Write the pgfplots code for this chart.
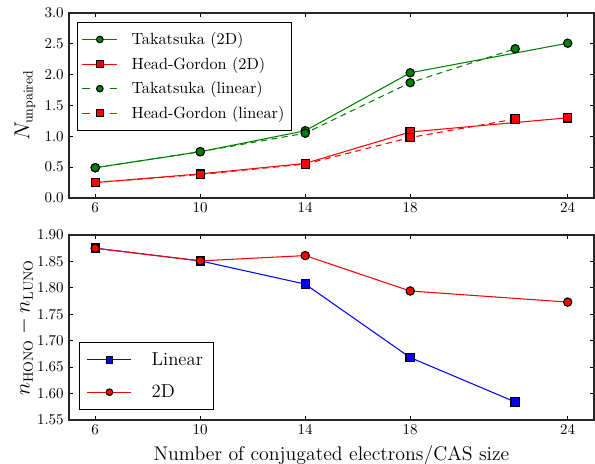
\documentclass[border=0pt]{standalone}
\usepackage{pgfplots}
\pgfplotsset{compat=1.18}
\definecolor{mgreen}{rgb}{0,0.5,0}
\definecolor{mred}{rgb}{1,0,0}
\definecolor{mblue}{rgb}{0,0,1}
\pgfplotsset{
  mystyle/.style={
    width=350pt, height=123.3pt, scale only axis,
    xmin=5, xmax=25,
    xtick={6,10,14,18,24},
    tick align=inside,
    major tick length=2.8pt,
    axis line style={line width=0.8pt, black!85},
    every tick/.style={black, line width=0.6pt},
    tick label style={font=\fontsize{10}{12}\selectfont},
    ylabel style={at={(axis description cs:-0.084,0.5)}, anchor=center},
    legend cell align=left,
    legend style={draw=black, line width=0.6pt, fill=white, inner xsep=3pt, inner ysep=4.5pt},
  },
  lin/.style={line width=0.7pt},
  dsh/.style={line width=0.7pt, dash pattern=on 4pt off 3pt},
}
\begin{document}
\begin{tikzpicture}
\begin{axis}[mystyle, name=top,
  ymin=0, ymax=3, ytick={0,0.5,1,1.5,2,2.5,3},
  yticklabel style={/pgf/number format/.cd, fixed, fixed zerofill, precision=1},
  ylabel={\fontsize{13.5}{16}\selectfont $N_{\mathrm{unpaired}}$},
  legend style={at={(0.015,0.951)}, anchor=north west, font=\fontsize{10.8}{13}\selectfont, row sep=2.8pt},
  legend image code/.code={\draw[mark size=2.2pt, mark repeat=2,mark phase=2] plot coordinates {(0pt,0pt)(11.65pt,0pt)(23.3pt,0pt)}; \path (30.5pt,0pt);},
]
\addplot[lin, color=mgreen, mark=*, mark size=2.8pt, mark options={draw=black, fill=mgreen}]
  coordinates {(6,0.49) (10,0.75) (14,1.09) (18,2.03) (24,2.51)};
\addlegendentry{Takatsuka (2D)}
\addplot[lin, color=mred, mark=square*, mark size=2.8pt, mark options={draw=black, fill=mred}]
  coordinates {(6,0.25) (10,0.39) (14,0.56) (18,1.07) (24,1.30)};
\addlegendentry{Head-Gordon (2D)}
\addplot[dsh, color=mgreen, mark=*, mark size=2.8pt, mark options={solid, draw=black, fill=mgreen},
  legend image post style={dash pattern=on 5pt off 13.3pt}]
  coordinates {(6,0.49) (10,0.75) (14,1.05) (18,1.87) (22,2.42)};
\addlegendentry{Takatsuka (linear)}
\addplot[dsh, color=mred, mark=square*, mark size=2.8pt, mark options={solid, draw=black, fill=mred},
  legend image post style={dash pattern=on 5pt off 13.3pt}]
  coordinates {(6,0.25) (10,0.38) (14,0.55) (18,0.98) (22,1.28)};
\addlegendentry{Head-Gordon (linear)}
\end{axis}
\begin{axis}[mystyle, name=bot,
  at={(top.south west)}, anchor=north west, yshift=-24.7pt,
  ymin=1.55, ymax=1.90, ytick={1.55,1.60,1.65,1.70,1.75,1.80,1.85,1.90},
  yticklabel style={/pgf/number format/.cd, fixed, fixed zerofill, precision=2},
  ylabel={\fontsize{13.5}{16}\selectfont $n_{\mathrm{HONO}}-n_{\mathrm{LUNO}}$},
  xlabel={\fontsize{13.2}{15}\selectfont Number of conjugated electrons/CAS size},
  legend style={at={(0.019,0.054)}, anchor=south west, font=\fontsize{12.5}{15}\selectfont, row sep=7.5pt, inner xsep=5pt},
  legend image code/.code={\draw[mark size=2.2pt, mark repeat=2,mark phase=2] plot coordinates {(0pt,0pt)(14.65pt,0pt)(29.3pt,0pt)}; \path (40.5pt,0pt);},
]
\addplot[lin, color=mblue, mark=square*, mark size=2.8pt, mark options={draw=black, fill=mblue}]
  coordinates {(6,1.875) (10,1.851) (14,1.807) (18,1.668) (22,1.584)};
\addlegendentry{Linear}
\addplot[lin, color=mred, mark=*, mark size=2.8pt, mark options={draw=black, fill=mred}]
  coordinates {(6,1.875) (10,1.851) (14,1.861) (18,1.794) (24,1.773)};
\addlegendentry{2D}
\end{axis}
\pgfresetboundingbox
\path[use as bounding box] ([xshift=-46pt, yshift=8.67pt]top.north west) rectangle ++(396.7pt,-308.7pt);
\end{tikzpicture}
\end{document}
